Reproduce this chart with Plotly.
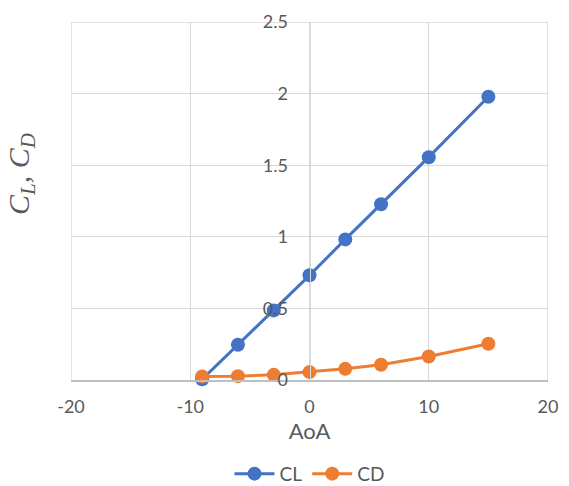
import plotly.graph_objects as go

# Angle of attack (deg) and aerodynamic coefficients
aoa = [-9, -6, -3, 0, 3, 6, 10, 15]
cl = [0.005, 0.246, 0.486, 0.731, 0.982, 1.227, 1.556, 1.978]
cd = [0.024, 0.027, 0.036, 0.055, 0.078, 0.106, 0.164, 0.253]

x_ticks = [-20, -10, 0, 10, 20]
x_labels = ["-20", "-10", "0", "10", "20"]
y_ticks = [0, 0.5, 1, 1.5, 2, 2.5]
y_labels = ["0", "0.5", "1", "1.5", "2", "2.5"]

BLUE = "#4472C4"
ORANGE = "#ED7D31"
GRID = "#d9d9d9"
TEXT = "#595959"
FONT = "Lato"

fig = go.Figure()
fig.add_trace(go.Scatter(
    x=aoa, y=cl, name="CL", mode="lines+markers",
    line=dict(color=BLUE, width=3),
    marker=dict(color=BLUE, size=14),
    cliponaxis=False,
))
fig.add_trace(go.Scatter(
    x=aoa, y=cd, name="CD", mode="lines+markers",
    line=dict(color=ORANGE, width=3),
    marker=dict(color=ORANGE, size=14),
    cliponaxis=False,
))

fig.update_layout(
    width=569, height=486,
    margin=dict(l=71, r=21, t=22, b=106, autoexpand=False),
    paper_bgcolor="white", plot_bgcolor="white",
    font=dict(family=FONT, size=18, color=TEXT),
    showlegend=True,
    legend=dict(
        orientation="h", x=0.5, xanchor="center",
        y=-0.262, yanchor="middle",
        font=dict(family=FONT, size=19, color=TEXT),
        itemwidth=40,
    ),
    xaxis=dict(
        range=[-20, 20], tickvals=x_ticks, ticktext=x_labels,
        tickfont=dict(family=FONT, size=18, color=TEXT),
        showgrid=True, gridcolor=GRID, gridwidth=1,
        zeroline=False,
        showline=True, linecolor="#bfbfbf", linewidth=1.5,
        ticks="outside", ticklen=10, tickcolor="rgba(0,0,0,0)",
        title=dict(text="AoA", font=dict(family=FONT, size=22, color=TEXT), standoff=4),
    ),
    yaxis=dict(
        range=[0, 2.5], tickvals=y_ticks, ticktext=y_labels,
        tickfont=dict(family=FONT, size=18, color=TEXT),
        showgrid=True, gridcolor=GRID, gridwidth=1,
        zeroline=False,
        anchor="free", position=0.5,
        showline=True, linecolor=GRID, linewidth=1,
        ticks="outside", ticklen=18, tickcolor="rgba(0,0,0,0)",
    ),
)

fig.add_annotation(
    text="<i>C<sub>L</sub>, C<sub>D</sub></i>",
    xref="paper", yref="paper", x=-0.105, y=0.575,
    xanchor="center", yanchor="middle", textangle=-90,
    showarrow=False,
    font=dict(family="Liberation Serif", size=30, color=TEXT),
)

# outer frame gridlines at the axis range limits
fig.add_shape(type="line", xref="x", yref="paper", x0=20, x1=20, y0=0, y1=1,
              line=dict(color=GRID, width=1.5), layer="below")
fig.add_shape(type="line", xref="x", yref="paper", x0=-20, x1=-20, y0=0, y1=1,
              line=dict(color=GRID, width=1.5), layer="below")
fig.add_shape(type="line", xref="paper", yref="y", x0=0, x1=1, y0=2.5, y1=2.5,
              line=dict(color=GRID, width=1.5), layer="below")

fig.write_html("out.html")
